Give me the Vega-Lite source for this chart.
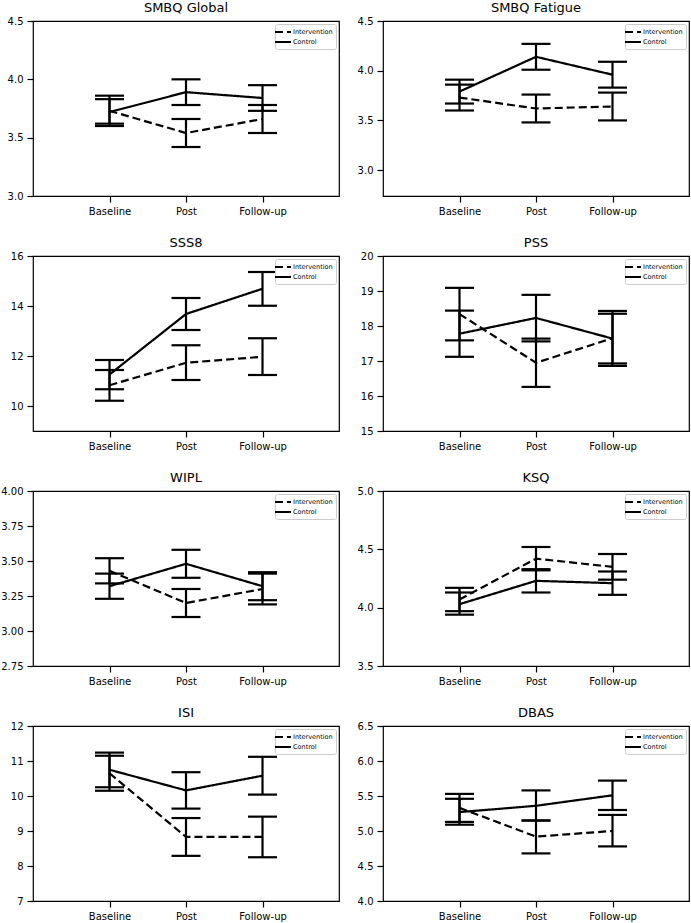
{
  "$schema": "https://vega.github.io/schema/vega-lite/v6.json",
  "padding": {"left": 0, "top": 1, "right": 1, "bottom": 0},
  "datasets": {
    "d": [
      {"m": "SMBQ Global", "t": "Baseline", "g": "Intervention", "mean": 3.73, "lo": 3.60, "hi": 3.86},
      {"m": "SMBQ Global", "t": "Post", "g": "Intervention", "mean": 3.54, "lo": 3.42, "hi": 3.66},
      {"m": "SMBQ Global", "t": "Follow-up", "g": "Intervention", "mean": 3.66, "lo": 3.54, "hi": 3.78},
      {"m": "SMBQ Global", "t": "Baseline", "g": "Control", "mean": 3.72, "lo": 3.62, "hi": 3.83},
      {"m": "SMBQ Global", "t": "Post", "g": "Control", "mean": 3.89, "lo": 3.78, "hi": 4.00},
      {"m": "SMBQ Global", "t": "Follow-up", "g": "Control", "mean": 3.84, "lo": 3.73, "hi": 3.95},
      {"m": "SMBQ Fatigue", "t": "Baseline", "g": "Intervention", "mean": 3.73, "lo": 3.60, "hi": 3.86},
      {"m": "SMBQ Fatigue", "t": "Post", "g": "Intervention", "mean": 3.62, "lo": 3.48, "hi": 3.76},
      {"m": "SMBQ Fatigue", "t": "Follow-up", "g": "Intervention", "mean": 3.64, "lo": 3.50, "hi": 3.78},
      {"m": "SMBQ Fatigue", "t": "Baseline", "g": "Control", "mean": 3.79, "lo": 3.67, "hi": 3.91},
      {"m": "SMBQ Fatigue", "t": "Post", "g": "Control", "mean": 4.14, "lo": 4.01, "hi": 4.27},
      {"m": "SMBQ Fatigue", "t": "Follow-up", "g": "Control", "mean": 3.96, "lo": 3.83, "hi": 4.09},
      {"m": "SSS8", "t": "Baseline", "g": "Intervention", "mean": 10.83, "lo": 10.21, "hi": 11.44},
      {"m": "SSS8", "t": "Post", "g": "Intervention", "mean": 11.73, "lo": 11.04, "hi": 12.43},
      {"m": "SSS8", "t": "Follow-up", "g": "Intervention", "mean": 11.97, "lo": 11.24, "hi": 12.71},
      {"m": "SSS8", "t": "Baseline", "g": "Control", "mean": 11.26, "lo": 10.67, "hi": 11.84},
      {"m": "SSS8", "t": "Post", "g": "Control", "mean": 13.68, "lo": 13.04, "hi": 14.32},
      {"m": "SSS8", "t": "Follow-up", "g": "Control", "mean": 14.69, "lo": 14.01, "hi": 15.36},
      {"m": "PSS", "t": "Baseline", "g": "Intervention", "mean": 18.34, "lo": 17.59, "hi": 19.09},
      {"m": "PSS", "t": "Post", "g": "Intervention", "mean": 16.95, "lo": 16.26, "hi": 17.64},
      {"m": "PSS", "t": "Follow-up", "g": "Intervention", "mean": 17.65, "lo": 16.86, "hi": 18.43},
      {"m": "PSS", "t": "Baseline", "g": "Control", "mean": 17.78, "lo": 17.12, "hi": 18.44},
      {"m": "PSS", "t": "Post", "g": "Control", "mean": 18.23, "lo": 17.56, "hi": 18.89},
      {"m": "PSS", "t": "Follow-up", "g": "Control", "mean": 17.64, "lo": 16.93, "hi": 18.35},
      {"m": "WIPL", "t": "Baseline", "g": "Intervention", "mean": 3.43, "lo": 3.34, "hi": 3.52},
      {"m": "WIPL", "t": "Post", "g": "Intervention", "mean": 3.20, "lo": 3.10, "hi": 3.30},
      {"m": "WIPL", "t": "Follow-up", "g": "Intervention", "mean": 3.30, "lo": 3.19, "hi": 3.41},
      {"m": "WIPL", "t": "Baseline", "g": "Control", "mean": 3.32, "lo": 3.23, "hi": 3.41},
      {"m": "WIPL", "t": "Post", "g": "Control", "mean": 3.48, "lo": 3.38, "hi": 3.58},
      {"m": "WIPL", "t": "Follow-up", "g": "Control", "mean": 3.32, "lo": 3.22, "hi": 3.42},
      {"m": "KSQ", "t": "Baseline", "g": "Intervention", "mean": 4.07, "lo": 3.97, "hi": 4.17},
      {"m": "KSQ", "t": "Post", "g": "Intervention", "mean": 4.42, "lo": 4.32, "hi": 4.52},
      {"m": "KSQ", "t": "Follow-up", "g": "Intervention", "mean": 4.35, "lo": 4.24, "hi": 4.46},
      {"m": "KSQ", "t": "Baseline", "g": "Control", "mean": 4.03, "lo": 3.94, "hi": 4.13},
      {"m": "KSQ", "t": "Post", "g": "Control", "mean": 4.23, "lo": 4.13, "hi": 4.33},
      {"m": "KSQ", "t": "Follow-up", "g": "Control", "mean": 4.21, "lo": 4.11, "hi": 4.31},
      {"m": "ISI", "t": "Baseline", "g": "Intervention", "mean": 10.65, "lo": 10.15, "hi": 11.15},
      {"m": "ISI", "t": "Post", "g": "Intervention", "mean": 8.83, "lo": 8.29, "hi": 9.37},
      {"m": "ISI", "t": "Follow-up", "g": "Intervention", "mean": 8.83, "lo": 8.25, "hi": 9.41},
      {"m": "ISI", "t": "Baseline", "g": "Control", "mean": 10.75, "lo": 10.25, "hi": 11.24},
      {"m": "ISI", "t": "Post", "g": "Control", "mean": 10.16, "lo": 9.64, "hi": 10.68},
      {"m": "ISI", "t": "Follow-up", "g": "Control", "mean": 10.58, "lo": 10.04, "hi": 11.12},
      {"m": "DBAS", "t": "Baseline", "g": "Intervention", "mean": 5.33, "lo": 5.13, "hi": 5.53},
      {"m": "DBAS", "t": "Post", "g": "Intervention", "mean": 4.92, "lo": 4.68, "hi": 5.15},
      {"m": "DBAS", "t": "Follow-up", "g": "Intervention", "mean": 5.00, "lo": 4.78, "hi": 5.23},
      {"m": "DBAS", "t": "Baseline", "g": "Control", "mean": 5.27, "lo": 5.09, "hi": 5.46},
      {"m": "DBAS", "t": "Post", "g": "Control", "mean": 5.36, "lo": 5.15, "hi": 5.58},
      {"m": "DBAS", "t": "Follow-up", "g": "Control", "mean": 5.51, "lo": 5.30, "hi": 5.72}
    ]
  },
  "data": {"name": "d"},
  "columns": 2,
  "spacing": {"row": 19, "column": 16},
  "resolve": {"scale": {"y": "independent", "x": "independent", "strokeDash": "independent"}, "legend": {"strokeDash": "independent"}},
  "concat": [
    {
      "title": "SMBQ Global", "width": 306, "height": 175,
      "transform": [{"filter": {"field": "m", "equal": "SMBQ Global"}}],
      "layer": [
        {"mark": {"type": "rule", "color": "black", "strokeWidth": 2.2},
         "encoding": {"x": {"field": "t", "type": "ordinal", "sort": ["Baseline", "Post", "Follow-up"], "scale": {"type": "point", "padding": 1, "domain": ["Baseline", "Post", "Follow-up"]}, "axis": {"title": null, "labelAngle": 0}},
          "y": {"field": "lo", "type": "quantitative", "scale": {"domain": [3.0, 4.5], "nice": false, "zero": false}, "axis": {"title": null, "values": [3.0, 3.5, 4.0, 4.5], "format": ".1f"}},
          "y2": {"field": "hi"}}},
        {"mark": {"type": "tick", "color": "black", "opacity": 1, "thickness": 2.2, "size": 29},
         "encoding": {"x": {"field": "t", "type": "ordinal", "sort": ["Baseline", "Post", "Follow-up"], "scale": {"type": "point", "padding": 1, "domain": ["Baseline", "Post", "Follow-up"]}, "axis": {"title": null, "labelAngle": 0}},
          "y": {"field": "lo", "type": "quantitative", "scale": {"domain": [3.0, 4.5], "nice": false, "zero": false}, "axis": {"title": null, "values": [3.0, 3.5, 4.0, 4.5], "format": ".1f"}}}},
        {"mark": {"type": "tick", "color": "black", "opacity": 1, "thickness": 2.2, "size": 29},
         "encoding": {"x": {"field": "t", "type": "ordinal", "sort": ["Baseline", "Post", "Follow-up"], "scale": {"type": "point", "padding": 1, "domain": ["Baseline", "Post", "Follow-up"]}, "axis": {"title": null, "labelAngle": 0}},
          "y": {"field": "hi", "type": "quantitative", "scale": {"domain": [3.0, 4.5], "nice": false, "zero": false}, "axis": {"title": null, "values": [3.0, 3.5, 4.0, 4.5], "format": ".1f"}}}},
        {"mark": {"type": "line", "color": "black", "strokeWidth": 2.2},
         "encoding": {"x": {"field": "t", "type": "ordinal", "sort": ["Baseline", "Post", "Follow-up"], "scale": {"type": "point", "padding": 1, "domain": ["Baseline", "Post", "Follow-up"]}, "axis": {"title": null, "labelAngle": 0}},
          "y": {"field": "mean", "type": "quantitative", "scale": {"domain": [3.0, 4.5], "nice": false, "zero": false}, "axis": {"title": null, "values": [3.0, 3.5, 4.0, 4.5], "format": ".1f"}},
          "strokeDash": {"field": "g", "type": "nominal", "scale": {"domain": ["Intervention", "Control"], "range": [[8, 4], [1, 0]]}, "legend": {"title": null}}}}
      ]
    },
    {
      "title": "SMBQ Fatigue", "width": 306, "height": 175,
      "transform": [{"filter": {"field": "m", "equal": "SMBQ Fatigue"}}],
      "layer": [
        {"mark": {"type": "rule", "color": "black", "strokeWidth": 2.2},
         "encoding": {"x": {"field": "t", "type": "ordinal", "sort": ["Baseline", "Post", "Follow-up"], "scale": {"type": "point", "padding": 1, "domain": ["Baseline", "Post", "Follow-up"]}, "axis": {"title": null, "labelAngle": 0}},
          "y": {"field": "lo", "type": "quantitative", "scale": {"domain": [2.74, 4.5], "nice": false, "zero": false}, "axis": {"title": null, "values": [3.0, 3.5, 4.0, 4.5], "format": ".1f"}},
          "y2": {"field": "hi"}}},
        {"mark": {"type": "tick", "color": "black", "opacity": 1, "thickness": 2.2, "size": 29},
         "encoding": {"x": {"field": "t", "type": "ordinal", "sort": ["Baseline", "Post", "Follow-up"], "scale": {"type": "point", "padding": 1, "domain": ["Baseline", "Post", "Follow-up"]}, "axis": {"title": null, "labelAngle": 0}},
          "y": {"field": "lo", "type": "quantitative", "scale": {"domain": [2.74, 4.5], "nice": false, "zero": false}, "axis": {"title": null, "values": [3.0, 3.5, 4.0, 4.5], "format": ".1f"}}}},
        {"mark": {"type": "tick", "color": "black", "opacity": 1, "thickness": 2.2, "size": 29},
         "encoding": {"x": {"field": "t", "type": "ordinal", "sort": ["Baseline", "Post", "Follow-up"], "scale": {"type": "point", "padding": 1, "domain": ["Baseline", "Post", "Follow-up"]}, "axis": {"title": null, "labelAngle": 0}},
          "y": {"field": "hi", "type": "quantitative", "scale": {"domain": [2.74, 4.5], "nice": false, "zero": false}, "axis": {"title": null, "values": [3.0, 3.5, 4.0, 4.5], "format": ".1f"}}}},
        {"mark": {"type": "line", "color": "black", "strokeWidth": 2.2},
         "encoding": {"x": {"field": "t", "type": "ordinal", "sort": ["Baseline", "Post", "Follow-up"], "scale": {"type": "point", "padding": 1, "domain": ["Baseline", "Post", "Follow-up"]}, "axis": {"title": null, "labelAngle": 0}},
          "y": {"field": "mean", "type": "quantitative", "scale": {"domain": [2.74, 4.5], "nice": false, "zero": false}, "axis": {"title": null, "values": [3.0, 3.5, 4.0, 4.5], "format": ".1f"}},
          "strokeDash": {"field": "g", "type": "nominal", "scale": {"domain": ["Intervention", "Control"], "range": [[8, 4], [1, 0]]}, "legend": {"title": null}}}}
      ]
    },
    {
      "title": "SSS8", "width": 306, "height": 175,
      "transform": [{"filter": {"field": "m", "equal": "SSS8"}}],
      "layer": [
        {"mark": {"type": "rule", "color": "black", "strokeWidth": 2.2},
         "encoding": {"x": {"field": "t", "type": "ordinal", "sort": ["Baseline", "Post", "Follow-up"], "scale": {"type": "point", "padding": 1, "domain": ["Baseline", "Post", "Follow-up"]}, "axis": {"title": null, "labelAngle": 0}},
          "y": {"field": "lo", "type": "quantitative", "scale": {"domain": [9, 16], "nice": false, "zero": false}, "axis": {"title": null, "values": [10, 12, 14, 16], "format": "d"}},
          "y2": {"field": "hi"}}},
        {"mark": {"type": "tick", "color": "black", "opacity": 1, "thickness": 2.2, "size": 29},
         "encoding": {"x": {"field": "t", "type": "ordinal", "sort": ["Baseline", "Post", "Follow-up"], "scale": {"type": "point", "padding": 1, "domain": ["Baseline", "Post", "Follow-up"]}, "axis": {"title": null, "labelAngle": 0}},
          "y": {"field": "lo", "type": "quantitative", "scale": {"domain": [9, 16], "nice": false, "zero": false}, "axis": {"title": null, "values": [10, 12, 14, 16], "format": "d"}}}},
        {"mark": {"type": "tick", "color": "black", "opacity": 1, "thickness": 2.2, "size": 29},
         "encoding": {"x": {"field": "t", "type": "ordinal", "sort": ["Baseline", "Post", "Follow-up"], "scale": {"type": "point", "padding": 1, "domain": ["Baseline", "Post", "Follow-up"]}, "axis": {"title": null, "labelAngle": 0}},
          "y": {"field": "hi", "type": "quantitative", "scale": {"domain": [9, 16], "nice": false, "zero": false}, "axis": {"title": null, "values": [10, 12, 14, 16], "format": "d"}}}},
        {"mark": {"type": "line", "color": "black", "strokeWidth": 2.2},
         "encoding": {"x": {"field": "t", "type": "ordinal", "sort": ["Baseline", "Post", "Follow-up"], "scale": {"type": "point", "padding": 1, "domain": ["Baseline", "Post", "Follow-up"]}, "axis": {"title": null, "labelAngle": 0}},
          "y": {"field": "mean", "type": "quantitative", "scale": {"domain": [9, 16], "nice": false, "zero": false}, "axis": {"title": null, "values": [10, 12, 14, 16], "format": "d"}},
          "strokeDash": {"field": "g", "type": "nominal", "scale": {"domain": ["Intervention", "Control"], "range": [[8, 4], [1, 0]]}, "legend": {"title": null}}}}
      ]
    },
    {
      "title": "PSS", "width": 306, "height": 175,
      "transform": [{"filter": {"field": "m", "equal": "PSS"}}],
      "layer": [
        {"mark": {"type": "rule", "color": "black", "strokeWidth": 2.2},
         "encoding": {"x": {"field": "t", "type": "ordinal", "sort": ["Baseline", "Post", "Follow-up"], "scale": {"type": "point", "padding": 1, "domain": ["Baseline", "Post", "Follow-up"]}, "axis": {"title": null, "labelAngle": 0}},
          "y": {"field": "lo", "type": "quantitative", "scale": {"domain": [15, 20], "nice": false, "zero": false}, "axis": {"title": null, "values": [15, 16, 17, 18, 19, 20], "format": "d"}},
          "y2": {"field": "hi"}}},
        {"mark": {"type": "tick", "color": "black", "opacity": 1, "thickness": 2.2, "size": 29},
         "encoding": {"x": {"field": "t", "type": "ordinal", "sort": ["Baseline", "Post", "Follow-up"], "scale": {"type": "point", "padding": 1, "domain": ["Baseline", "Post", "Follow-up"]}, "axis": {"title": null, "labelAngle": 0}},
          "y": {"field": "lo", "type": "quantitative", "scale": {"domain": [15, 20], "nice": false, "zero": false}, "axis": {"title": null, "values": [15, 16, 17, 18, 19, 20], "format": "d"}}}},
        {"mark": {"type": "tick", "color": "black", "opacity": 1, "thickness": 2.2, "size": 29},
         "encoding": {"x": {"field": "t", "type": "ordinal", "sort": ["Baseline", "Post", "Follow-up"], "scale": {"type": "point", "padding": 1, "domain": ["Baseline", "Post", "Follow-up"]}, "axis": {"title": null, "labelAngle": 0}},
          "y": {"field": "hi", "type": "quantitative", "scale": {"domain": [15, 20], "nice": false, "zero": false}, "axis": {"title": null, "values": [15, 16, 17, 18, 19, 20], "format": "d"}}}},
        {"mark": {"type": "line", "color": "black", "strokeWidth": 2.2},
         "encoding": {"x": {"field": "t", "type": "ordinal", "sort": ["Baseline", "Post", "Follow-up"], "scale": {"type": "point", "padding": 1, "domain": ["Baseline", "Post", "Follow-up"]}, "axis": {"title": null, "labelAngle": 0}},
          "y": {"field": "mean", "type": "quantitative", "scale": {"domain": [15, 20], "nice": false, "zero": false}, "axis": {"title": null, "values": [15, 16, 17, 18, 19, 20], "format": "d"}},
          "strokeDash": {"field": "g", "type": "nominal", "scale": {"domain": ["Intervention", "Control"], "range": [[8, 4], [1, 0]]}, "legend": {"title": null}}}}
      ]
    },
    {
      "title": "WIPL", "width": 306, "height": 175,
      "transform": [{"filter": {"field": "m", "equal": "WIPL"}}],
      "layer": [
        {"mark": {"type": "rule", "color": "black", "strokeWidth": 2.2},
         "encoding": {"x": {"field": "t", "type": "ordinal", "sort": ["Baseline", "Post", "Follow-up"], "scale": {"type": "point", "padding": 1, "domain": ["Baseline", "Post", "Follow-up"]}, "axis": {"title": null, "labelAngle": 0}},
          "y": {"field": "lo", "type": "quantitative", "scale": {"domain": [2.75, 4.0], "nice": false, "zero": false}, "axis": {"title": null, "values": [2.75, 3.0, 3.25, 3.5, 3.75, 4.0], "format": ".2f"}},
          "y2": {"field": "hi"}}},
        {"mark": {"type": "tick", "color": "black", "opacity": 1, "thickness": 2.2, "size": 29},
         "encoding": {"x": {"field": "t", "type": "ordinal", "sort": ["Baseline", "Post", "Follow-up"], "scale": {"type": "point", "padding": 1, "domain": ["Baseline", "Post", "Follow-up"]}, "axis": {"title": null, "labelAngle": 0}},
          "y": {"field": "lo", "type": "quantitative", "scale": {"domain": [2.75, 4.0], "nice": false, "zero": false}, "axis": {"title": null, "values": [2.75, 3.0, 3.25, 3.5, 3.75, 4.0], "format": ".2f"}}}},
        {"mark": {"type": "tick", "color": "black", "opacity": 1, "thickness": 2.2, "size": 29},
         "encoding": {"x": {"field": "t", "type": "ordinal", "sort": ["Baseline", "Post", "Follow-up"], "scale": {"type": "point", "padding": 1, "domain": ["Baseline", "Post", "Follow-up"]}, "axis": {"title": null, "labelAngle": 0}},
          "y": {"field": "hi", "type": "quantitative", "scale": {"domain": [2.75, 4.0], "nice": false, "zero": false}, "axis": {"title": null, "values": [2.75, 3.0, 3.25, 3.5, 3.75, 4.0], "format": ".2f"}}}},
        {"mark": {"type": "line", "color": "black", "strokeWidth": 2.2},
         "encoding": {"x": {"field": "t", "type": "ordinal", "sort": ["Baseline", "Post", "Follow-up"], "scale": {"type": "point", "padding": 1, "domain": ["Baseline", "Post", "Follow-up"]}, "axis": {"title": null, "labelAngle": 0}},
          "y": {"field": "mean", "type": "quantitative", "scale": {"domain": [2.75, 4.0], "nice": false, "zero": false}, "axis": {"title": null, "values": [2.75, 3.0, 3.25, 3.5, 3.75, 4.0], "format": ".2f"}},
          "strokeDash": {"field": "g", "type": "nominal", "scale": {"domain": ["Intervention", "Control"], "range": [[8, 4], [1, 0]]}, "legend": {"title": null}}}}
      ]
    },
    {
      "title": "KSQ", "width": 306, "height": 175,
      "transform": [{"filter": {"field": "m", "equal": "KSQ"}}],
      "layer": [
        {"mark": {"type": "rule", "color": "black", "strokeWidth": 2.2},
         "encoding": {"x": {"field": "t", "type": "ordinal", "sort": ["Baseline", "Post", "Follow-up"], "scale": {"type": "point", "padding": 1, "domain": ["Baseline", "Post", "Follow-up"]}, "axis": {"title": null, "labelAngle": 0}},
          "y": {"field": "lo", "type": "quantitative", "scale": {"domain": [3.5, 5.0], "nice": false, "zero": false}, "axis": {"title": null, "values": [3.5, 4.0, 4.5, 5.0], "format": ".1f"}},
          "y2": {"field": "hi"}}},
        {"mark": {"type": "tick", "color": "black", "opacity": 1, "thickness": 2.2, "size": 29},
         "encoding": {"x": {"field": "t", "type": "ordinal", "sort": ["Baseline", "Post", "Follow-up"], "scale": {"type": "point", "padding": 1, "domain": ["Baseline", "Post", "Follow-up"]}, "axis": {"title": null, "labelAngle": 0}},
          "y": {"field": "lo", "type": "quantitative", "scale": {"domain": [3.5, 5.0], "nice": false, "zero": false}, "axis": {"title": null, "values": [3.5, 4.0, 4.5, 5.0], "format": ".1f"}}}},
        {"mark": {"type": "tick", "color": "black", "opacity": 1, "thickness": 2.2, "size": 29},
         "encoding": {"x": {"field": "t", "type": "ordinal", "sort": ["Baseline", "Post", "Follow-up"], "scale": {"type": "point", "padding": 1, "domain": ["Baseline", "Post", "Follow-up"]}, "axis": {"title": null, "labelAngle": 0}},
          "y": {"field": "hi", "type": "quantitative", "scale": {"domain": [3.5, 5.0], "nice": false, "zero": false}, "axis": {"title": null, "values": [3.5, 4.0, 4.5, 5.0], "format": ".1f"}}}},
        {"mark": {"type": "line", "color": "black", "strokeWidth": 2.2},
         "encoding": {"x": {"field": "t", "type": "ordinal", "sort": ["Baseline", "Post", "Follow-up"], "scale": {"type": "point", "padding": 1, "domain": ["Baseline", "Post", "Follow-up"]}, "axis": {"title": null, "labelAngle": 0}},
          "y": {"field": "mean", "type": "quantitative", "scale": {"domain": [3.5, 5.0], "nice": false, "zero": false}, "axis": {"title": null, "values": [3.5, 4.0, 4.5, 5.0], "format": ".1f"}},
          "strokeDash": {"field": "g", "type": "nominal", "scale": {"domain": ["Intervention", "Control"], "range": [[8, 4], [1, 0]]}, "legend": {"title": null}}}}
      ]
    },
    {
      "title": "ISI", "width": 306, "height": 175,
      "transform": [{"filter": {"field": "m", "equal": "ISI"}}],
      "layer": [
        {"mark": {"type": "rule", "color": "black", "strokeWidth": 2.2},
         "encoding": {"x": {"field": "t", "type": "ordinal", "sort": ["Baseline", "Post", "Follow-up"], "scale": {"type": "point", "padding": 1, "domain": ["Baseline", "Post", "Follow-up"]}, "axis": {"title": null, "labelAngle": 0}},
          "y": {"field": "lo", "type": "quantitative", "scale": {"domain": [7, 12], "nice": false, "zero": false}, "axis": {"title": null, "values": [7, 8, 9, 10, 11, 12], "format": "d"}},
          "y2": {"field": "hi"}}},
        {"mark": {"type": "tick", "color": "black", "opacity": 1, "thickness": 2.2, "size": 29},
         "encoding": {"x": {"field": "t", "type": "ordinal", "sort": ["Baseline", "Post", "Follow-up"], "scale": {"type": "point", "padding": 1, "domain": ["Baseline", "Post", "Follow-up"]}, "axis": {"title": null, "labelAngle": 0}},
          "y": {"field": "lo", "type": "quantitative", "scale": {"domain": [7, 12], "nice": false, "zero": false}, "axis": {"title": null, "values": [7, 8, 9, 10, 11, 12], "format": "d"}}}},
        {"mark": {"type": "tick", "color": "black", "opacity": 1, "thickness": 2.2, "size": 29},
         "encoding": {"x": {"field": "t", "type": "ordinal", "sort": ["Baseline", "Post", "Follow-up"], "scale": {"type": "point", "padding": 1, "domain": ["Baseline", "Post", "Follow-up"]}, "axis": {"title": null, "labelAngle": 0}},
          "y": {"field": "hi", "type": "quantitative", "scale": {"domain": [7, 12], "nice": false, "zero": false}, "axis": {"title": null, "values": [7, 8, 9, 10, 11, 12], "format": "d"}}}},
        {"mark": {"type": "line", "color": "black", "strokeWidth": 2.2},
         "encoding": {"x": {"field": "t", "type": "ordinal", "sort": ["Baseline", "Post", "Follow-up"], "scale": {"type": "point", "padding": 1, "domain": ["Baseline", "Post", "Follow-up"]}, "axis": {"title": null, "labelAngle": 0}},
          "y": {"field": "mean", "type": "quantitative", "scale": {"domain": [7, 12], "nice": false, "zero": false}, "axis": {"title": null, "values": [7, 8, 9, 10, 11, 12], "format": "d"}},
          "strokeDash": {"field": "g", "type": "nominal", "scale": {"domain": ["Intervention", "Control"], "range": [[8, 4], [1, 0]]}, "legend": {"title": null}}}}
      ]
    },
    {
      "title": "DBAS", "width": 306, "height": 175,
      "transform": [{"filter": {"field": "m", "equal": "DBAS"}}],
      "layer": [
        {"mark": {"type": "rule", "color": "black", "strokeWidth": 2.2},
         "encoding": {"x": {"field": "t", "type": "ordinal", "sort": ["Baseline", "Post", "Follow-up"], "scale": {"type": "point", "padding": 1, "domain": ["Baseline", "Post", "Follow-up"]}, "axis": {"title": null, "labelAngle": 0}},
          "y": {"field": "lo", "type": "quantitative", "scale": {"domain": [4.0, 6.5], "nice": false, "zero": false}, "axis": {"title": null, "values": [4.0, 4.5, 5.0, 5.5, 6.0, 6.5], "format": ".1f"}},
          "y2": {"field": "hi"}}},
        {"mark": {"type": "tick", "color": "black", "opacity": 1, "thickness": 2.2, "size": 29},
         "encoding": {"x": {"field": "t", "type": "ordinal", "sort": ["Baseline", "Post", "Follow-up"], "scale": {"type": "point", "padding": 1, "domain": ["Baseline", "Post", "Follow-up"]}, "axis": {"title": null, "labelAngle": 0}},
          "y": {"field": "lo", "type": "quantitative", "scale": {"domain": [4.0, 6.5], "nice": false, "zero": false}, "axis": {"title": null, "values": [4.0, 4.5, 5.0, 5.5, 6.0, 6.5], "format": ".1f"}}}},
        {"mark": {"type": "tick", "color": "black", "opacity": 1, "thickness": 2.2, "size": 29},
         "encoding": {"x": {"field": "t", "type": "ordinal", "sort": ["Baseline", "Post", "Follow-up"], "scale": {"type": "point", "padding": 1, "domain": ["Baseline", "Post", "Follow-up"]}, "axis": {"title": null, "labelAngle": 0}},
          "y": {"field": "hi", "type": "quantitative", "scale": {"domain": [4.0, 6.5], "nice": false, "zero": false}, "axis": {"title": null, "values": [4.0, 4.5, 5.0, 5.5, 6.0, 6.5], "format": ".1f"}}}},
        {"mark": {"type": "line", "color": "black", "strokeWidth": 2.2},
         "encoding": {"x": {"field": "t", "type": "ordinal", "sort": ["Baseline", "Post", "Follow-up"], "scale": {"type": "point", "padding": 1, "domain": ["Baseline", "Post", "Follow-up"]}, "axis": {"title": null, "labelAngle": 0}},
          "y": {"field": "mean", "type": "quantitative", "scale": {"domain": [4.0, 6.5], "nice": false, "zero": false}, "axis": {"title": null, "values": [4.0, 4.5, 5.0, 5.5, 6.0, 6.5], "format": ".1f"}},
          "strokeDash": {"field": "g", "type": "nominal", "scale": {"domain": ["Intervention", "Control"], "range": [[8, 4], [1, 0]]}, "legend": {"title": null}}}}
      ]
    }
  ],
  "config": {
    "font": "DejaVu Sans",
    "background": "white",
    "view": {"stroke": "black", "strokeWidth": 1.2},
    "axis": {"domain": false, "grid": false, "ticks": true, "tickSize": 6, "tickWidth": 1.2, "tickColor": "black", "labelFontSize": 10, "labelColor": "black", "labelPadding": 4, "labelFont": "DejaVu Sans"},
    "title": {"fontSize": 13, "fontWeight": "normal", "color": "black", "offset": 1, "anchor": "middle", "frame": "group", "font": "DejaVu Sans"},
    "legend": {"orient": "top-right", "offset": 3, "padding": 3, "fillColor": "white", "strokeColor": "#cccccc", "cornerRadius": 2, "symbolType": "M-2,0H2", "symbolSize": 64, "symbolStrokeWidth": 2, "symbolStrokeColor": "black", "symbolFillColor": "transparent", "labelFontSize": 6.5, "labelColor": "black", "labelOffset": 5, "rowPadding": 1, "labelFont": "DejaVu Sans"}
  }
}
